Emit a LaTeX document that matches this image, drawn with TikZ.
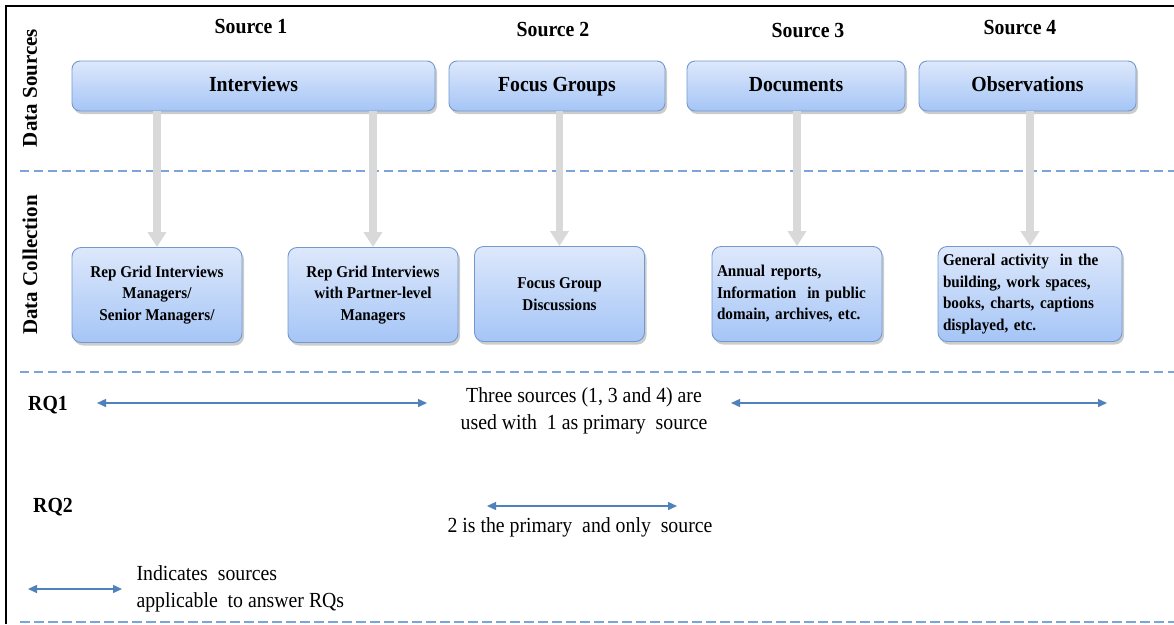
\documentclass[tikz,border=0pt]{standalone}
\usepackage{fontspec}
\setmainfont{Liberation Serif}
\newfontfamily\narrowserif[FakeStretch=0.92]{Liberation Serif}
\usetikzlibrary{arrows.meta,shadows}
\definecolor{boxtop}{HTML}{DDE8FB}
\definecolor{boxbot}{HTML}{A5C5F6}
\definecolor{boxline}{HTML}{7299CE}
\definecolor{dashblue}{HTML}{7BA4D8}
\definecolor{rqblue}{HTML}{4F81BD}
\definecolor{flowgray}{HTML}{D9D9D9}
\begin{document}
\begin{tikzpicture}[x=1pt,y=-1pt,
  srcbox/.style={draw=boxline, line width=0.9pt, rounded corners=8pt,
    top color=boxtop, bottom color=boxbot,
    drop shadow={shadow xshift=2pt, shadow yshift=-3pt, opacity=0.4},
    minimum height=50pt, inner sep=0pt, text height=15pt, text depth=4pt,
    font=\narrowserif\bfseries\fontsize{21.5}{24}\selectfont},
  colbox/.style={draw=boxline, line width=0.9pt, rounded corners=9pt,
    top color=boxtop, bottom color=boxbot,
    drop shadow={shadow xshift=2pt, shadow yshift=-3pt, opacity=0.4},
    minimum height=95pt, minimum width=170pt, inner sep=0pt,
    font=\narrowserif\bfseries\fontsize{16.5}{21.5}\selectfont},
  head/.style={font=\narrowserif\bfseries\fontsize{21.5}{24}\selectfont},
  side/.style={font=\bfseries\fontsize{21}{24}\selectfont, rotate=90},
  rq/.style={font=\narrowserif\bfseries\fontsize{21.5}{24}\selectfont},
  note/.style={font=\narrowserif\fontsize{21.5}{27}\selectfont, align=center},
  flow/.style={draw=flowgray, line width=7.5pt,
    -{Triangle[width=18pt,length=15pt]}},
  span/.style={draw=rqblue, line width=1.4pt,
    {Triangle[width=8pt,length=9pt]}-{Triangle[width=8pt,length=9pt]}},
  divider/.style={draw=dashblue, line width=1.2pt, dash pattern=on 9pt off 5pt},
]
\useasboundingbox (0,0) rectangle (1174,624);

% frame
\draw[line width=2pt] (6,624) -- (6,6) -- (1174,6);

% section dividers
\draw[divider] (20,171) -- (1174,171);
\draw[divider] (20,372) -- (1174,372);
\draw[divider, line width=2.4pt, dash pattern=on 10pt off 4pt] (20,622) -- (1174,622);

% row labels
\node[side] (lblsrc) at (30,88) {Data Sources};
\node[side] (lblcol) at (30,265) {Data Collection};

% source headings
\node[head] (h1) at (251,27) {Source 1};
\node[head] (h2) at (553,30) {Source 2};
\node[head] (h3) at (808,31) {Source 3};
\node[head] (h4) at (1020,28) {Source 4};

% data sources
\node[srcbox, minimum width=363pt] (intv) at (253.5,86) {Interviews};
\node[srcbox, minimum width=216pt] (fgrp) at (557,86) {Focus Groups};
\node[srcbox, minimum width=218pt] (docs) at (796,86) {Documents};
\node[srcbox, minimum width=217pt] (obsv) at (1027.5,86) {Observations};

% data collection
\node[colbox, align=center] (rg1) at (157,295)
  {Rep Grid\ Interviews\\Managers/\\Senior Managers/};
\node[colbox, align=center] (rg2) at (373,295)
  {Rep Grid\ Interviews\\with\ Partner-level\\Managers};
\node[colbox, align=center] (fgd) at (559.5,294)
  {Focus\ Group\\Discussions};
\node[colbox, align=left, text width=160pt] (arep) at (797,294)
  {Annual\ reports,\\Information\ \ in public\\domain,\ archives,\ etc.};
\node[colbox, minimum width=184pt, align=left, text width=174pt] (gact) at (1030,294)
  {General\ activity\ \ in the\\building,\ work\ spaces,\\books, charts, captions\\displayed,\ etc.};

% flows from sources to collection
\draw[flow] (intv.south -| rg1.north) -- (rg1.north);
\draw[flow] (intv.south -| rg2.north) -- (rg2.north);
\draw[flow] (fgrp.south -| fgd.north) -- (fgd.north);
\draw[flow] (docs.south -| arep.north) -- (arep.north);
\draw[flow] (obsv.south -| gact.north) -- (gact.north);

% research questions
\node[rq] (rq1) at (48,405) {RQ1};
\node[rq] (rq2) at (53,507) {RQ2};

\node[note] (n1) at (584,411) {Three sources (1, 3 and 4) are\\used with\ \ 1 as primary\ \ source};
\coordinate (a1l) at (97,403);
\coordinate (a1r) at (427,403);
\coordinate (b1l) at (731,403);
\coordinate (b1r) at (1107,403);
\draw[span] (a1l) -- (a1r);
\draw[span] (b1l) -- (b1r);

\coordinate (a2l) at (487,506);
\coordinate (a2r) at (677,506);
\draw[span] (a2l) -- (a2r);
\node[note] (n2) at (580,527) {2 is the primary\ \ and only\ \ source};

% legend
\coordinate (kl) at (28,589);
\coordinate (kr) at (122,589);
\draw[span] (kl) -- (kr);
\node[note, align=left, anchor=west] (key) at (133,589) {Indicates\ \ sources\\applicable\ \ to answer RQs};
\end{tikzpicture}
\end{document}
